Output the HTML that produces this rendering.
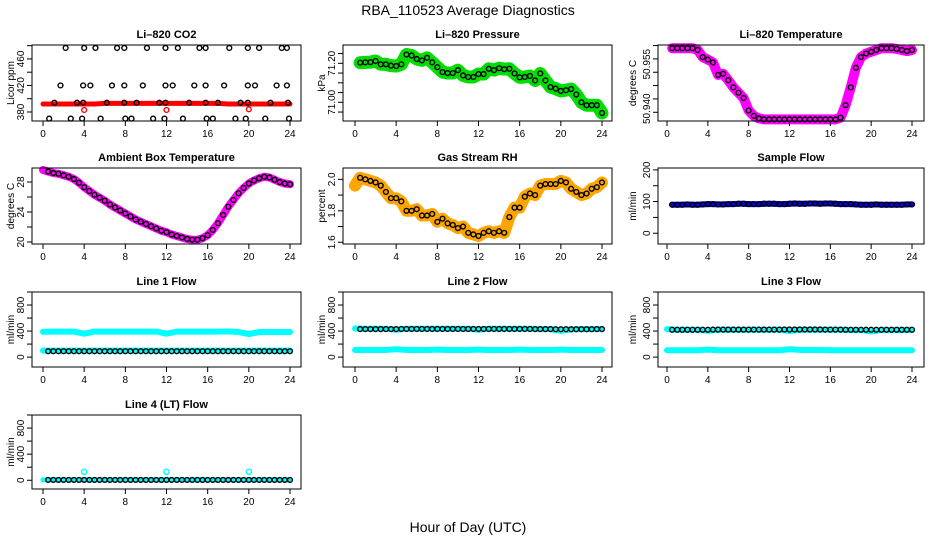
<!DOCTYPE html>
<html><head><meta charset="utf-8">
<style>
html,body{margin:0;padding:0;background:#fff;}
svg{display:block;font-family:"Liberation Sans",Arial,sans-serif;}
</style></head>
<body>
<svg id="chart" width="936" height="540" viewBox="0 0 936 540" xmlns="http://www.w3.org/2000/svg">
<rect width="936" height="540" fill="#fff"/>
<text x="468" y="15" text-anchor="middle" font-size="14" fill="#000">RBA_110523  Average Diagnostics</text>
<text x="468" y="532" text-anchor="middle" font-size="14" fill="#000">Hour of Day (UTC)</text>
</svg>
<script>
const halfHours=[0.5,1,1.5,2,2.5,3,3.5,4,4.5,5,5.5,6,6.5,7,7.5,8,8.5,9,9.5,10,10.5,11,11.5,12,12.5,13,13.5,14,14.5,15,15.5,16,16.5,17,17.5,18,18.5,19,19.5,20,20.5,21,21.5,22,22.5,23,23.5,24];
const hours=[0,1,2,3,4,5,6,7,8,9,10,11,12,13,14,15,16,17,18,19,20,21,22,23,24];
const xTicks=[0,4,8,12,16,20,24];

const co2TopHours=[2.2,4.0,5.1,7.2,7.9,10.1,11.9,13.1,15.2,15.8,18.1,19.9,21.0,23.2,23.7];
const co2MidHours=[1.7,3.9,4.6,6.7,7.9,9.7,11.9,12.6,14.7,15.8,17.6,19.9,20.6,22.7,23.7];
const co2LowHours=[1.1,3.3,3.9,6.2,7.9,9.1,11.3,11.9,14.2,15.8,17.0,19.2,19.9,22.1,23.8];
const co2BotHours=[0.6,2.7,3.8,5.6,8.0,8.6,10.7,11.8,13.6,15.9,16.5,18.7,19.7,21.6,23.9];
const co2Levels=[476.5,420,394,370];
const co2BandVals=[392,392,392,392,392,392,393,393,393,393,393,393,393,393,393,393,393,393,392,392,392,392,392,392,392];
const co2RedHours=[4,12,20];
const co2RedVals=[383,383,384];

const pressVals=[71.203,71.205,71.206,71.212,71.195,71.195,71.188,71.186,71.195,71.245,71.240,71.222,71.215,71.228,71.205,71.180,71.155,71.150,71.150,71.165,71.138,71.130,71.130,71.145,71.145,71.172,71.165,71.175,71.170,71.172,71.148,71.128,71.130,71.135,71.112,71.148,71.112,71.078,71.070,71.058,71.062,71.068,71.040,71.000,70.985,70.985,70.985,70.945];
const tempVals=[50.958,50.958,50.958,50.958,50.958,50.9575,50.9555,50.9548,50.9540,50.9505,50.9508,50.9490,50.9470,50.9455,50.9440,50.9405,50.9390,50.9383,50.9380,50.9380,50.9380,50.9380,50.9380,50.9380,50.9380,50.9380,50.9380,50.9380,50.9380,50.9380,50.9380,50.9380,50.9380,50.9385,50.9420,50.9470,50.9525,50.9555,50.9565,50.9570,50.9575,50.9580,50.9580,50.9580,50.9578,50.9575,50.9572,50.9575];
const ambientVals=[29.4,29.2,29.1,28.9,28.7,28.4,27.9,27.3,26.8,26.3,25.9,25.5,25.0,24.6,24.2,23.8,23.4,23.0,22.7,22.4,22.1,21.8,21.5,21.3,21.0,20.8,20.6,20.4,20.3,20.3,20.5,20.9,21.6,22.5,23.6,24.7,25.6,26.5,27.2,27.8,28.2,28.5,28.7,28.6,28.3,28.0,27.8,27.7];
const rhVals=[2.01,2.00,1.99,1.98,1.96,1.92,1.88,1.88,1.86,1.80,1.80,1.81,1.77,1.77,1.78,1.73,1.75,1.72,1.71,1.69,1.70,1.66,1.65,1.64,1.66,1.67,1.66,1.67,1.66,1.76,1.82,1.82,1.89,1.91,1.90,1.96,1.97,1.97,1.97,1.99,1.98,1.94,1.92,1.90,1.91,1.94,1.95,1.98];
const sampleVals=[90,90,90,91,90,90,91,92,92,91,91,92,92,93,93,92,92,92,93,93,93,92,92,93,94,93,93,94,94,93,94,94,93,92,92,92,91,90,90,90,91,90,90,90,90,90,91,91];

const line1High=[390,392,392,392,360,392,392,392,392,392,392,392,360,392,392,392,392,392,395,385,355,385,385,385,385];
const line1Low=[100,100,100,100,100,100,100,100,100,100,100,100,100,100,100,100,100,100,100,100,100,100,100,100,100];
const line1Black=[90,90,90,90,90,90,90,90,90,90,90,90,90,90,90,90,90,90,90,90,90,90,90,90,90];
const line2High=[440,435,435,435,420,435,435,435,435,435,435,435,420,435,435,435,435,435,430,430,405,425,430,430,430];
const line2Low=[110,110,110,110,120,110,110,110,115,110,110,110,115,110,110,110,115,110,110,110,115,110,110,110,110];
const line2Black=[430,430,430,430,430,432,432,432,432,432,432,432,432,432,432,432,432,432,430,430,428,428,428,428,430];
const line3High=[430,420,420,420,405,420,420,420,420,420,420,420,400,420,420,420,420,420,415,415,395,415,415,415,420];
const line3Low=[105,105,105,105,115,105,105,105,105,105,105,105,120,110,110,110,105,105,105,105,105,105,105,105,105];
const line3Black=[420,420,420,420,420,422,422,422,422,422,422,422,424,424,424,424,422,422,420,420,420,420,420,420,420];
const line4Low=[8,5,5,5,5,5,5,5,5,5,5,5,5,5,5,5,5,5,5,5,5,5,5,5,5];
const line4Black=[5,5,5,5,5,5,5,5,5,5,5,5,5,5,5,5,5,5,5,5,5,5,5,5,5];
const line4SpikeHours=[4,12,20];
const line4SpikeVals=[130,130,130];

const svg=document.getElementById('chart');
const NS='http://www.w3.org/2000/svg';
const cols=[{bx0:32,bx1:301,x0:43,x24:290,yl:10},{bx0:343,bx1:612,x0:355,x24:602,yl:321},{bx0:658,bx1:924,x0:667,x24:912,yl:632}];
const rows=[{by0:45,by1:121},{by0:168,by1:244},{by0:292,by1:367},{by0:415,by1:489}];

function mk(tag,attrs,parent){const e=document.createElementNS(NS,tag);for(const k in attrs)e.setAttribute(k,attrs[k]);(parent||svg).appendChild(e);return e;}

function panel(name,title,ylab,c,r,ymin,ymax,yTicks,yLabels){
  const C=cols[c],R=rows[r];
  const g=mk('g',{});
  
  
  const sx=h=>C.x0+(C.x24-C.x0)*h/24;
  const sy=v=>R.by1-(R.by1-R.by0)*(v-ymin)/(ymax-ymin);
  const gd=mk('g',{},g);
  
  
  const t=mk('text',{x:(C.bx0+C.bx1)/2,y:R.by0-7,'text-anchor':'middle','font-size':11,'font-weight':'bold'},g);
  t.textContent=title;
  
  
  const yt=mk('text',{x:0,y:0,'text-anchor':'middle','font-size':10,transform:`translate(${C.yl+4},${(R.by0+R.by1)/2}) rotate(-90)`},g);
  yt.textContent=ylab;
  
  
  const xa=mk('g',{},g);
  
  
  mk('line',{x1:sx(0),x2:sx(24),y1:R.by1,y2:R.by1,stroke:'#000'},xa);
  xTicks.forEach(h=>{
    mk('line',{x1:sx(h),x2:sx(h),y1:R.by1,y2:R.by1+5,stroke:'#000'},xa);
    const l=mk('text',{x:sx(h),y:R.by1+16,'text-anchor':'middle','font-size':10},xa);
    l.textContent=h;
    
    
  });
  const ya=mk('g',{},g);
  
  
  mk('line',{x1:C.bx0,x2:C.bx0,y1:sy(yTicks[0]),y2:sy(yTicks[yTicks.length-1]),stroke:'#000'},ya);
  yTicks.forEach(v=>mk('line',{x1:C.bx0-5,x2:C.bx0,y1:sy(v),y2:sy(v),stroke:'#000'},ya));
  yLabels.forEach(p=>{
    const l=mk('text',{x:0,y:0,'text-anchor':'middle','font-size':10,transform:`translate(${C.bx0-8},${sy(p[0])}) rotate(-90)`},ya);
    l.textContent=p[1];
    
    
  });
  const b=mk('rect',{x:C.bx0,y:R.by0,width:C.bx1-C.bx0,height:R.by1-R.by0,fill:'none',stroke:'#000'},g);
  
  
  return {g:gd,sx,sy};
}
function band(P,xs,vals,color,w,nm){
  const pl=mk('polyline',{points:xs.map((h,i)=>P.sx(h)+','+P.sy(vals[i])).join(' '),fill:'none',stroke:color,'stroke-width':w,'stroke-linecap':'round','stroke-linejoin':'round'},P.g);
  
  
}
function pts(P,xs,vals,color,r,nm){
  const gg=mk('g',{},P.g);
  
  
  xs.forEach((h,i)=>{
    const c=mk('circle',{cx:P.sx(h),cy:P.sy(vals[i]),r:r||2.4,fill:'none',stroke:color,'stroke-width':1.4},gg);
    
    
  });
}

let P=panel('co2','Li\u2013820 CO2','Licor ppm',0,0,366.4,481,[380,400,420,440,460,480],[[380,'380'],[420,'420'],[460,'460']]);
band(P,hours,co2BandVals,'#ff0000',5,'co2-band');
pts(P,co2RedHours,co2RedVals,'#ff0000',2.4,'co2-red-points');
pts(P,co2TopHours,co2TopHours.map(()=>co2Levels[0]),'#000',2.4,'co2-points-476');
pts(P,co2MidHours,co2MidHours.map(()=>co2Levels[1]),'#000',2.4,'co2-points-420');
pts(P,co2LowHours,co2LowHours.map(()=>co2Levels[2]),'#000',2.4,'co2-points-394');
pts(P,co2BotHours,co2BotHours.map(()=>co2Levels[3]),'#000',2.4,'co2-points-370');

P=panel('pressure','Li\u2013820 Pressure','kPa',1,0,70.904,71.294,[70.95,71.00,71.05,71.10,71.15,71.20,71.25],[[71.20,'71.20'],[71.00,'71.00']]);
band(P,halfHours,pressVals,'#00dd00',13,'pressure-band');
pts(P,halfHours,pressVals,'#000',2.4,'pressure-points');

P=panel('li820-temp','Li\u2013820 Temperature','degrees C',2,0,50.93755,50.9589,[50.940,50.94375,50.9475,50.95125,50.955,50.95875],[[50.9535,'50.955'],[50.9410,'50.940']]);
band(P,halfHours,tempVals,'#ff00ff',10,'li820-temp-band');
pts(P,halfHours,tempVals,'#000',2.4,'li820-temp-points');

P=panel('ambient','Ambient Box Temperature','degrees C',0,1,19.73,29.87,[20,22,24,26,28],[[20,'20'],[24,'24'],[28,'28']]);
band(P,[0].concat(halfHours),[29.6].concat(ambientVals),'#ff00ff',8,'ambient-band');
pts(P,halfHours,ambientVals,'#000',2.4,'ambient-points');

P=panel('rh','Gas Stream RH','percent',1,1,1.589,2.072,[1.6,1.7,1.8,1.9,2.0],[[1.6,'1.6'],[1.8,'1.8'],[2.0,'2.0']]);
band(P,[0].concat(halfHours),[1.96].concat(rhVals),'#ffa500',12,'rh-band');
pts(P,halfHours,rhVals,'#000',2.4,'rh-points');

P=panel('sample-flow','Sample Flow','ml/min',2,1,-34,206,[0,50,100,150,200],[[0,'0'],[100,'100'],[200,'200']]);
band(P,halfHours,sampleVals,'#0000ee',6,'sample-flow-band');
pts(P,halfHours,sampleVals,'#000',2.4,'sample-flow-points');

const flowTicks=[0,200,400,600,800,1000],flowLabels=[[0,'0'],[400,'400'],[800,'800']];
P=panel('line1','Line 1 Flow','ml/min',0,2,-152,1000,flowTicks,flowLabels);
band(P,hours,line1High,'#00ffff',6,'line1-high-band');
band(P,hours,line1Low,'#00ffff',6,'line1-low-band');
pts(P,hours.slice(1),line1Black.slice(1),'#000',2.4,'line1-points');
pts(P,hours.slice(1).map(h=>h-0.5),line1Black.slice(1),'#000',2.4,'line1-points-half');
P=panel('line2','Line 2 Flow','ml/min',1,2,-152,1000,flowTicks,flowLabels);
band(P,hours,line2High,'#00ffff',6,'line2-high-band');
band(P,hours,line2Low,'#00ffff',6,'line2-low-band');
pts(P,hours.slice(1),line2Black.slice(1),'#000',2.4,'line2-points');
pts(P,hours.slice(1).map(h=>h-0.5),line2Black.slice(1),'#000',2.4,'line2-points-half');
P=panel('line3','Line 3 Flow','ml/min',2,2,-152,1000,flowTicks,flowLabels);
band(P,hours,line3High,'#00ffff',6,'line3-high-band');
band(P,hours,line3Low,'#00ffff',6,'line3-low-band');
pts(P,hours.slice(1),line3Black.slice(1),'#000',2.4,'line3-points');
pts(P,hours.slice(1).map(h=>h-0.5),line3Black.slice(1),'#000',2.4,'line3-points-half');
P=panel('line4','Line 4 (LT) Flow','ml/min',0,3,-134,1000,flowTicks,flowLabels);
band(P,hours,line4Low,'#00ffff',5,'line4-band');
pts(P,line4SpikeHours,line4SpikeVals,'#00ffff',2.6,'line4-spike-points');
pts(P,hours.slice(1),line4Black.slice(1),'#000',2.4,'line4-points');
pts(P,hours.slice(1).map(h=>h-0.5),line4Black.slice(1),'#000',2.4,'line4-points-half');
</script>
</body></html>
